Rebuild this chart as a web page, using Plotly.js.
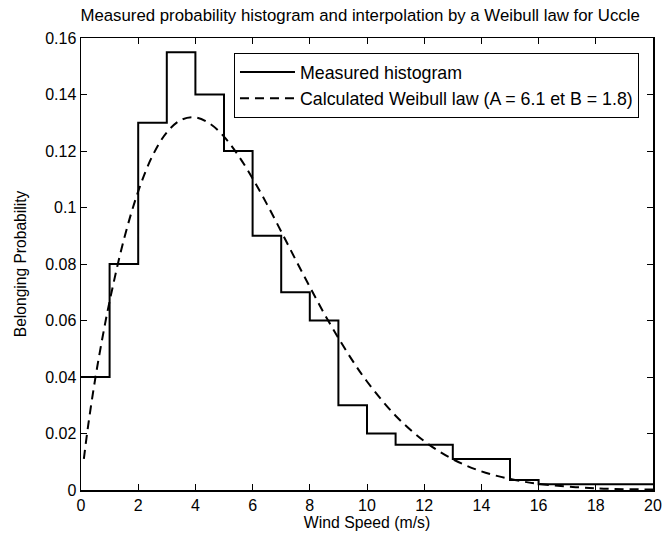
<!DOCTYPE html>
<html><head><meta charset="utf-8">
<script src="https://cdn.plot.ly/plotly-3.0.1.min.js"></script>
<style>html,body{margin:0;padding:0;background:#fff}</style>
</head><body><div id="chart" style="width:662px;height:535px"></div>
<script>
// Histogram bin edges (m/s) and measured probability per bin
const binEdges = [0,1,2,3,4,5,6,7,8,9,10,11,12,13,14,15,16,17,18,19,20];
const measuredProb = [0.04,0.08,0.13,0.155,0.14,0.12,0.09,0.07,0.06,0.03,0.02,0.016,0.016,0.011,0.011,0.0035,0.002,0.002,0.002,0.002];

// Calculated Weibull law (A = 6.1, B = 1.8)
const weibullSpeed = [0.1,0.25,0.5,0.75,1,1.5,2,2.5,3,3.5,4,4.5,5,5.5,6,6.5,7,7.5,8,8.5,9,9.5,10,11,12,13,14,15,16,18,20];
const weibullProb = [0.011,0.0228,0.0395,0.0539,0.0668,0.0887,0.1057,0.1183,0.1266,0.1310,0.1319,0.1297,0.1251,0.1184,0.1103,0.1012,0.0915,0.0816,0.0719,0.0625,0.0538,0.0457,0.0384,0.0263,0.0173,0.0109,0.0066,0.0039,0.0022,0.0006,0.0002];

const xTicks = [0,2,4,6,8,10,12,14,16,18,20];
const yTicks = [0,0.02,0.04,0.06,0.08,0.1,0.12,0.14,0.16];

const font = 'Liberation Sans, Arial, sans-serif';

const histY = measuredProb.concat([measuredProb[measuredProb.length - 1]]);

const traces = [
  {
    x: binEdges, y: histY, type: 'scatter', mode: 'lines',
    line: {shape: 'hv', color: '#000', width: 2},
    name: 'Measured histogram'
  },
  {
    x: weibullSpeed, y: weibullProb, type: 'scatter', mode: 'lines',
    line: {shape: 'spline', color: '#000', width: 2, dash: '9px,6px'},
    name: 'Calculated Weibull law (A = 6.1 et B = 1.8)'
  }
];

const layout = {
  width: 662, height: 535,
  margin: {l: 81, r: 9, t: 38, b: 45},
  paper_bgcolor: '#fff', plot_bgcolor: '#fff',
  font: {family: font, size: 16, color: '#000'},
  title: {text: 'Measured probability histogram and interpolation by a Weibull law for Uccle',
    font: {family: font, size: 16.8, color: '#000'},
    xref: 'paper', x: 0.488, xanchor: 'center', yref: 'container', y: 0.972, yanchor: 'middle'},
  showlegend: true,
  legend: {x: 0.9755, xanchor: 'right', y: 0.967, yanchor: 'top',
    bordercolor: '#000', borderwidth: 1, bgcolor: '#fff',
    font: {family: font, size: 17.8, color: '#000'}, itemwidth: 55, tracegroupgap: 0},
  xaxis: {range: [0, 20], tickvals: xTicks, ticks: 'inside', ticklen: 6, tickcolor: '#000',
    showline: true, linecolor: '#000', linewidth: 1.5, mirror: 'ticks', showgrid: false, zeroline: false,
    tickfont: {family: font, size: 16}, title: {text: 'Wind Speed (m/s)', font: {family: font, size: 15.8}, standoff: 0}},
  yaxis: {range: [0, 0.16], tickvals: yTicks, ticks: 'inside', ticklen: 6, tickcolor: '#000',
    showline: true, linecolor: '#000', linewidth: 1.5, mirror: 'ticks', showgrid: false, zeroline: false,
    tickfont: {family: font, size: 16}, title: {text: 'Belonging Probability', font: {family: font, size: 15.6}, standoff: 14}}
};

Plotly.newPlot('chart', traces, layout, {displayModeBar: false, staticPlot: true});
</script>
</body></html>
